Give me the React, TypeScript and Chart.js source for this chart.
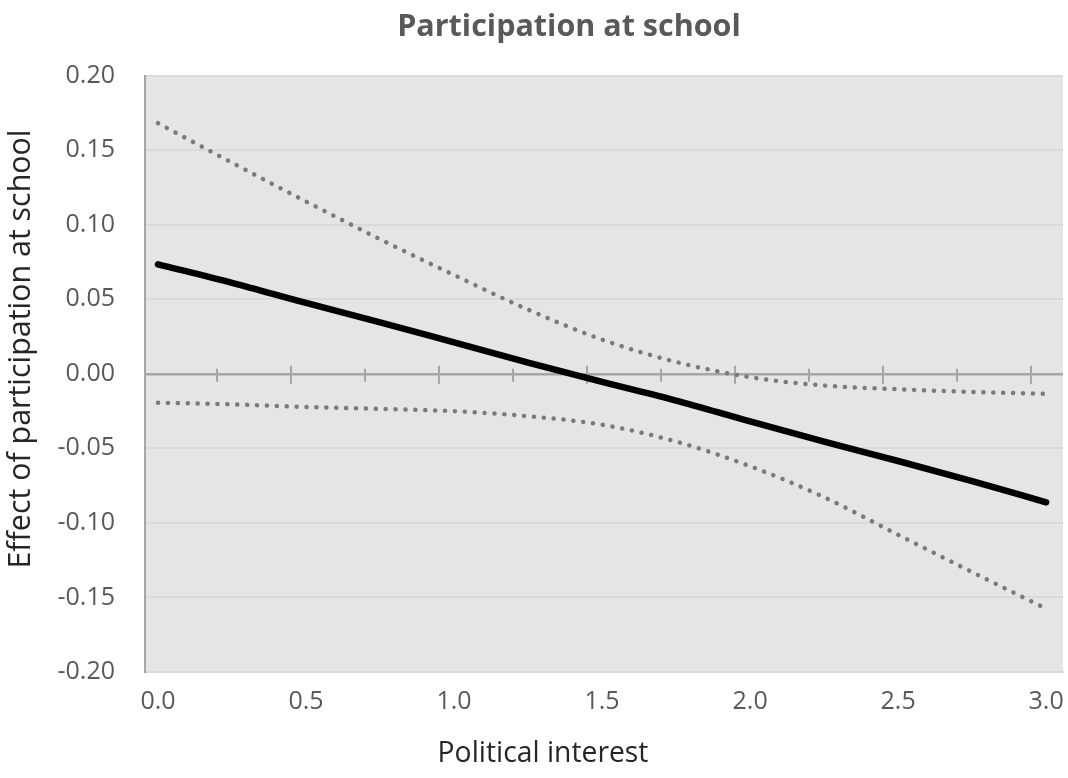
import React, { useEffect, useRef } from "react";
import { Chart, registerables } from "chart.js";

Chart.register(...registerables);

const xValues = [0.0, 0.25, 0.5, 0.75, 1.0, 1.25, 1.5, 1.75, 2.0, 2.25, 2.5, 2.75, 3.0];
const effect = [0.0734, 0.061, 0.0475, 0.0345, 0.021, 0.0075, -0.0055, -0.018, -0.032, -0.0455, -0.0585, -0.072, -0.0862];
const upperCI = [0.168, 0.1415, 0.1155, 0.0902, 0.0662, 0.043, 0.0229, 0.0079, -0.0023, -0.0079, -0.0104, -0.0122, -0.0135];
const lowerCI = [-0.0194, -0.0205, -0.0223, -0.0236, -0.0251, -0.0285, -0.0342, -0.0455, -0.062, -0.0828, -0.108, -0.133, -0.1575];

const xTickLabels = [0.0, 0.5, 1.0, 1.5, 2.0, 2.5, 3.0];
const zeroMajorTicks = [0.45, 0.95, 1.45, 1.95, 2.45, 2.95];
const zeroMinorTicks = [0.2, 0.7, 1.2, 1.7, 2.2, 2.7];

const chartTitle = "Participation at school";
const xTitle = "Political interest";
const yTitle = "Effect of participation at school";

const FONT = "'Open Sans', Lato, sans-serif";

const bgPlugin = {
  id: "plotBg",
  beforeDraw(chart: any) {
    const { ctx, chartArea } = chart;
    ctx.save();
    ctx.fillStyle = "#e5e5e5";
    ctx.fillRect(chartArea.left, chartArea.top, chartArea.right - chartArea.left, chartArea.bottom - chartArea.top);
    ctx.restore();
  },
};

const zeroTicksPlugin = {
  id: "zeroTicks",
  beforeDatasetsDraw(chart: any) {
    const { ctx } = chart;
    const xs = chart.scales.x;
    const ys = chart.scales.y;
    const y0 = ys.getPixelForValue(0);
    ctx.save();
    ctx.strokeStyle = "#a6a6a6";
    ctx.lineWidth = 2;
    const drawT = (v: number, up: number, down: number) => {
      const px = Math.round(xs.getPixelForValue(v));
      ctx.beginPath();
      ctx.moveTo(px, y0 - up);
      ctx.lineTo(px, y0 + down);
      ctx.stroke();
    };
    zeroMajorTicks.forEach((v) => drawT(v, 8, 10));
    zeroMinorTicks.forEach((v) => drawT(v, 5, 8));
    ctx.restore();
  },
};

const titlesPlugin = {
  id: "titles",
  afterDraw(chart: any) {
    const { ctx } = chart;
    ctx.save();
    ctx.textAlign = "center";
    ctx.textBaseline = "middle";
    ctx.fillStyle = "#595959";
    ctx.font = `bold 30.5px ${FONT}`;
    ctx.fillText(chartTitle, 569, 27);
    ctx.fillStyle = "#262626";
    ctx.font = `28.3px ${FONT}`;
    ctx.fillText(xTitle, 543, 754);
    ctx.translate(21, 349);
    ctx.rotate(-Math.PI / 2);
    ctx.font = `30.4px ${FONT}`;
    ctx.fillText(yTitle, 0, 0);
    ctx.restore();
  },
};

export default function App() {
  const ref = useRef<HTMLCanvasElement | null>(null);
  useEffect(() => {
    document.body.style.margin = "0";
    const mk = (ys: number[]) => xValues.map((x, i) => ({ x, y: ys[i] }));
    const chart = new Chart(ref.current as HTMLCanvasElement, {
      type: "line",
      data: {
        datasets: [
          {
            label: "Effect",
            data: mk(effect),
            borderColor: "#000000",
            borderWidth: 6.5,
            pointRadius: 0,
            borderCapStyle: "round",
            borderJoinStyle: "round",
            cubicInterpolationMode: "monotone",
          },
          {
            label: "Upper",
            data: mk(upperCI),
            borderColor: "#7a7a7a",
            borderWidth: 4.5,
            borderDash: [0.1, 9.8],
            borderCapStyle: "round",
            pointRadius: 0,
            cubicInterpolationMode: "monotone",
          },
          {
            label: "Lower",
            data: mk(lowerCI),
            borderColor: "#7a7a7a",
            borderWidth: 4.5,
            borderDash: [0.1, 9.8],
            borderCapStyle: "round",
            pointRadius: 0,
            cubicInterpolationMode: "monotone",
          },
        ],
      } as any,
      options: {
        animation: false,
        responsive: true,
        maintainAspectRatio: false,
        layout: { padding: { left: 0, right: 5, top: 75.5, bottom: 0 } },
        plugins: {
          legend: { display: false },
          tooltip: { enabled: false },
          title: { display: false },
        },
        scales: {
          x: {
            type: "linear",
            min: -0.044,
            max: 3.057,
            afterBuildTicks: (s: any) => {
              s.ticks = xTickLabels.map((v) => ({ value: v }));
            },
            afterFit: (s: any) => {
              s.height = 106;
              s.paddingRight = 0;
              s.paddingLeft = 0;
            },
            grid: { display: false, drawTicks: false },
            border: { color: "#d9d9d9", width: 2 },
            ticks: {
              color: "#595959",
              font: { family: FONT, size: 25 },
              padding: 15,
              maxRotation: 0,
              autoSkip: false,
              callback: (v: any) => Number(v).toFixed(1),
            },
            title: { display: false },
          },
          y: {
            type: "linear",
            min: -0.2,
            max: 0.2,
            afterFit: (s: any) => {
              s.width = 145;
            },
            ticks: {
              stepSize: 0.05,
              color: "#595959",
              font: { family: FONT, size: 25 },
              padding: 30,
              callback: (v: any) => Number(v).toFixed(2),
            },
            grid: {
              drawTicks: false,
              color: (c: any) => (c.tick && Math.abs(c.tick.value) < 1e-9 ? "#a6a6a6" : "#d9d9d9"),
              lineWidth: (c: any) => (c.tick && Math.abs(c.tick.value) < 1e-9 ? 2.5 : 2),
            },
            border: { color: "#a6a6a6", width: 2 },
            title: { display: false },
          },
        },
      } as any,
      plugins: [bgPlugin, zeroTicksPlugin, titlesPlugin],
    });
    return () => chart.destroy();
  }, []);
  return (
    <div style={{ position: "absolute", left: 0, top: 0, width: 1068, height: 778 }}>
      <canvas ref={ref} />
    </div>
  );
}
